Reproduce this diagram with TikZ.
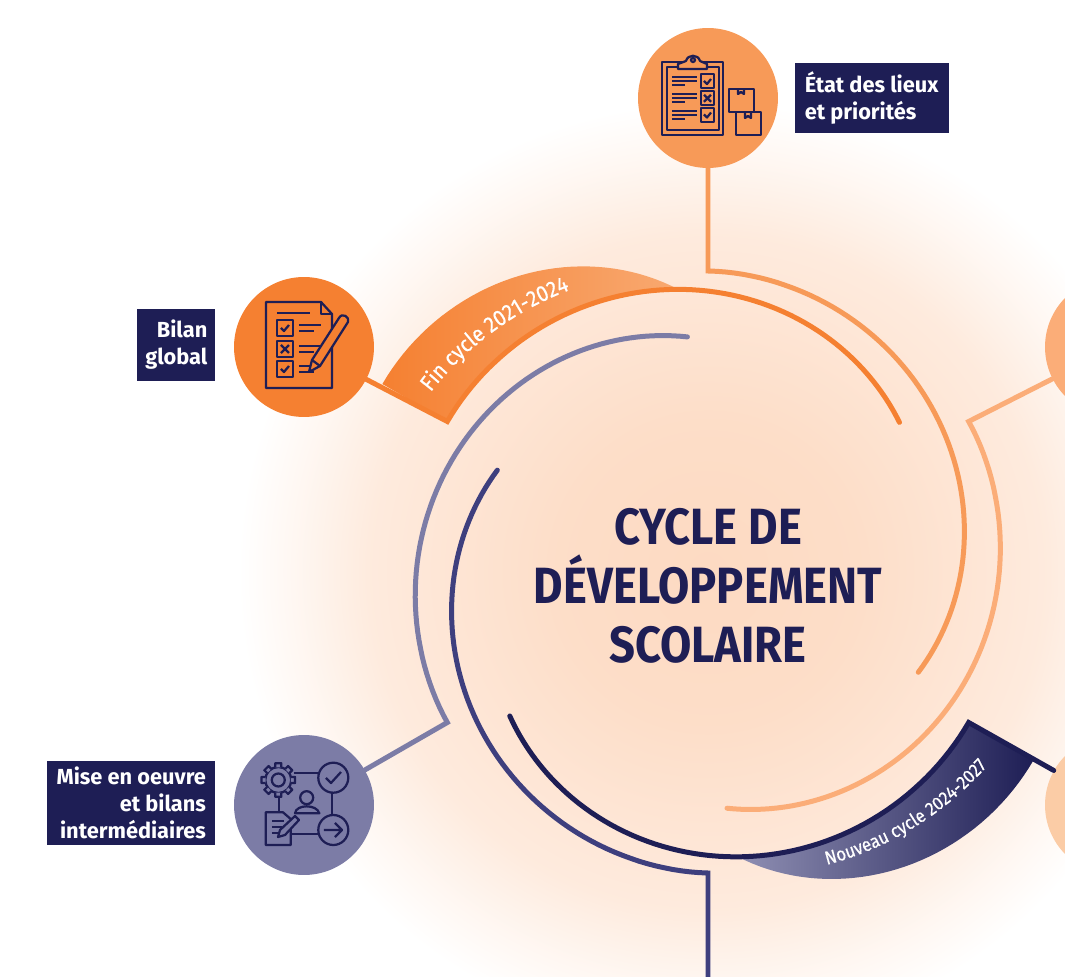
\documentclass[tikz,border=0pt]{standalone}
\usepackage{fontspec}
\usepackage{xcolor}
\setmainfont{Fira Sans}
\newfontfamily\titlefont{Fira Sans}[FakeStretch=0.89]
\newfontfamily\bandfont{Fira Sans}[FakeBold=0.5,FakeStretch=0.9]
\usetikzlibrary{positioning,calc,decorations.text}

\definecolor{navy}{HTML}{1E1E55}
\definecolor{navymid}{HTML}{3E3F7E}
\definecolor{peri}{HTML}{7C7CA6}
\definecolor{orangedark}{HTML}{F58031}
\definecolor{orangemid}{HTML}{F79A58}
\definecolor{orangelight}{HTML}{FBAD78}
\definecolor{orangepale}{HTML}{FBCCA6}
\definecolor{glowcore}{HTML}{FDDAC2}

\pgfdeclareradialshading{glow}{\pgfpoint{0bp}{0bp}}{%
  color(0bp)=(glowcore); color(8bp)=(glowcore!90!white);
  color(18bp)=(glowcore!55!white); color(22bp)=(glowcore!22!white);
  color(25bp)=(white); color(50bp)=(white)}

\begin{document}
\begin{tikzpicture}[x=0.02cm,y=0.02cm,
  declare function={ringr(\t,\T,\e,\p)=301-(301-\e)*(\t/\T)^\p;
    bandr(\t,\T,\e,\p)=ringr(\t,\T,\e,\p)+75*(1-(\t/54)^2);},
  font=\bfseries,
  stage/.style={circle, minimum size=2.8cm, inner sep=0pt},
  labelbox/.style={fill=navy, text=white, inner sep=0pt, font=\fontsize{12.4}{15.4}\selectfont\bfseries},
  ring/.style={line width=0.1cm, line join=miter, line cap=round},
  icon/.style={draw=navy, line width=0.045cm, line join=round},
  title/.style={text=navy, font=\fontsize{29}{33.6}\selectfont\titlefont\bfseries, align=center}]
\useasboundingbox (-708,-405) rectangle (357,572);
\clip (-708,-405) rectangle (357,572);
% glow behind everything
\path[shading=glow] (0,0) circle (470);
% stages
\node[stage, fill=orangemid] (etatc) at (0,474) {};
\node[stage, fill=orangedark] (bilanc) at (-404,225) {};
\node[stage, fill=peri] (misec) at (-404,-233) {};
\node[stage, fill=orangelight] (nextc) at (407,225) {};
\node[stage, fill=orangepale] (lastc) at (407,-233) {};
\coordinate (foot) at (0,-405);
\coordinate (s90) at (90:301);
\coordinate (s150) at (150:301);
\coordinate (s30) at (30:301);
\coordinate (sm30) at (-30:301);
\coordinate (sm90) at (-90:301);
\coordinate (sm150) at (-150:301);
% bands
\path[left color=orangedark, middle color=orangedark, right color=orangemid!85!white]
  plot[domain=0:54,samples=40] ({150-\x}:{ringr(\x,112,243,1.7)}) -- plot[domain=54:0,samples=40] ({150-\x}:{bandr(\x,112,243,1.7)}) -- cycle;
\path[left color=peri!85!white, right color=navy]
  plot[domain=0:54,samples=40] ({-30-\x}:{ringr(\x,114,245,1.8)}) -- plot[domain=54:0,samples=40] ({-30-\x}:{bandr(\x,114,245,1.8)}) -- cycle;
% rings
\draw[ring, orangemid] (etatc) -- (s90) -- plot[domain=0:115.5,samples=70] ({90-\x}:{ringr(\x,115.5,233,1.4)});
\draw[ring, orangedark] (bilanc) -- (s150) -- plot[domain=0:112,samples=70] ({150-\x}:{ringr(\x,112,243,1.7)});
\draw[ring, orangelight] (nextc) -- (s30) -- plot[domain=0:115.4,samples=70] ({30-\x}:{ringr(\x,115.4,237,1.4)});
\draw[ring, navy] (lastc) -- (sm30) -- plot[domain=0:114,samples=70] ({-30-\x}:{ringr(\x,114,245,1.8)});
\draw[ring, peri] (misec) -- (sm150) -- plot[domain=0:115,samples=70] ({210-\x}:{ringr(\x,115,236,1.45)});
\draw[ring, navymid] (foot) -- (sm90) -- plot[domain=0:115.8,samples=70] ({-90-\x}:{ringr(\x,115.8,234,1.35)});
% band texts
\path[decorate, decoration={text along path, text align=center,
  text={|\fontsize{12.8}{15}\selectfont\bandfont\mdseries\color{white}|Fin cycle 2021-2024}}]
  plot[domain=0:37,samples=30] ({150-\x}:{332-16*\x/30});
\path[decorate, decoration={text along path, text align=center,
  text={|\fontsize{10.7}{13}\selectfont\bandfont\mdseries\color{white}|Nouveau cycle 2024-2027}}]
  plot[domain=42:1,samples=30] ({-30-\x}:{316+24*(38-\x)/33});
% labels
\node[labelbox, right=0.32cm of etatc, minimum width=3.08cm, minimum height=1.42cm, align=left] (etat) {État des lieux\\et priorités};
\node[labelbox, left=0.36cm of bilanc, yshift=0.04cm, minimum width=1.56cm, minimum height=1.44cm, align=right] (bilan) {Bilan\\global};
\node[labelbox, left=0.36cm of misec, yshift=0.04cm, minimum width=3.36cm, minimum height=1.68cm, align=right] (mise) {Mise en oeuvre\\et bilans\\intermédiaires};
\node[title] (cycle) at (0,-14) {CYCLE DE\\DÉVELOPPEMENT\\SCOLAIRE};
% icon: clipboard and boxes
\begin{scope}[shift={(etatc)}]
\draw[icon] (-46,36) rectangle (15,-37);
\draw[icon] (-41,31) rectangle (11,-32);
\draw[icon, fill=orangemid] (-30,29) -- (-30,34) -- (-22,37) .. controls (-20,44) and (-10,44) .. (-8,37) -- (-1,34) -- (-1,29) -- cycle;
\draw[icon] (-15,38) circle (2);
\foreach \yy in {17,0,-17}{
  \draw[icon] (-36,\yy+4) -- (-11,\yy+4) (-36,\yy) -- (-11,\yy) (-36,\yy-4) -- (-23,\yy-4);
  \draw[icon] (-7,\yy+6.7) rectangle (6,\yy-6.7);
}
\draw[icon] (-4,17) -- (-1,14) -- (3,19);
\draw[icon] (-4,-16.5) -- (-1,-19.5) -- (3,-14.5);
\draw[icon] (-4,3.2) -- (3,-3.8) (3,3.2) -- (-4,-3.8);
\draw[icon] (21,9) rectangle (46,-14);
\draw[icon] (28,-14) rectangle (53,-37);
\draw[icon] (30,9) -- (30,4) -- (33,6) -- (36,4) -- (36,9);
\draw[icon] (37,-14) -- (37,-20) -- (40,-18) -- (43,-20) -- (43,-14);
\end{scope}
% icon: report and pencil
\begin{scope}[shift={(bilanc)}]
\draw[icon] (-38,45) -- (17,45) -- (28,33) -- (28,-41) -- (-38,-41) -- cycle;
\draw[icon] (17,45) -- (17,33) -- (28,33);
\draw[icon] (-27,34) -- (6,34);
\foreach \yy in {19,-2,-22}{
  \draw[icon] (-27,\yy+8) rectangle (-11,\yy-8);
  \draw[icon] (-5,\yy+3) -- (17,\yy+3) (-5,\yy-3) -- (10,\yy-3);
}
\draw[icon] (-23,19) -- (-20,16) -- (-15,22);
\draw[icon] (-23,-22) -- (-20,-25) -- (-15,-19);
\draw[icon] (-23,2) -- (-15,-6) (-15,2) -- (-23,-6);
\draw[icon, fill=orangedark] (8,-13) -- (35,29) .. controls (38,35) and (46,30) .. (44,25) -- (16,-19) -- (5,-25) -- cycle;
\draw[icon] (8,-13) -- (16,-19);
\end{scope}
% icon: gear, person, document, steps
\begin{scope}[shift={(misec)}]
\draw[icon] (-10,32) -- (15,32) (28,12) -- (28,-10) (15,-29) -- (-13,-29) (-25,8) -- (-25,-8);
\draw[icon] (29.3,27.3) circle (15);
\draw[icon] (29.3,-25) circle (15);
\draw[icon] (22,27) -- (27,22) -- (37,33);
\draw[icon] (20,-25) -- (38,-25) (31,-18) -- (38,-25) -- (31,-32);
\draw[icon, fill=peri] (-25.7,25) circle (13);
\draw[icon] (-25.7,25) circle (6.5);
\foreach \g in {0,45,...,315}{
  \draw[icon, fill=peri, shift={(-25.7,25)}] (\g-13:13) -- (\g-10:17) -- (\g+10:17) -- (\g+13:13);
}
\draw[icon] (2.7,7.3) circle (6.5);
\draw[icon] (-9,-8.3) .. controls (-8,1) and (13,1) .. (15.3,-8.3) -- cycle;
\draw[icon, fill=peri] (-38.3,-7.3) -- (-21,-7.3) -- (-13.3,-14) -- (-13.3,-40) -- (-38.3,-40) -- cycle;
\draw[icon] (-32,-16) -- (-20,-16) (-32,-22) -- (-22,-22) (-32,-28) -- (-26,-28);
\draw[icon, fill=peri] (-24,-25) -- (-9,-11) -- (-5,-15) -- (-19,-30) -- (-26,-32) -- cycle;
\end{scope}
\end{tikzpicture}
\end{document}
